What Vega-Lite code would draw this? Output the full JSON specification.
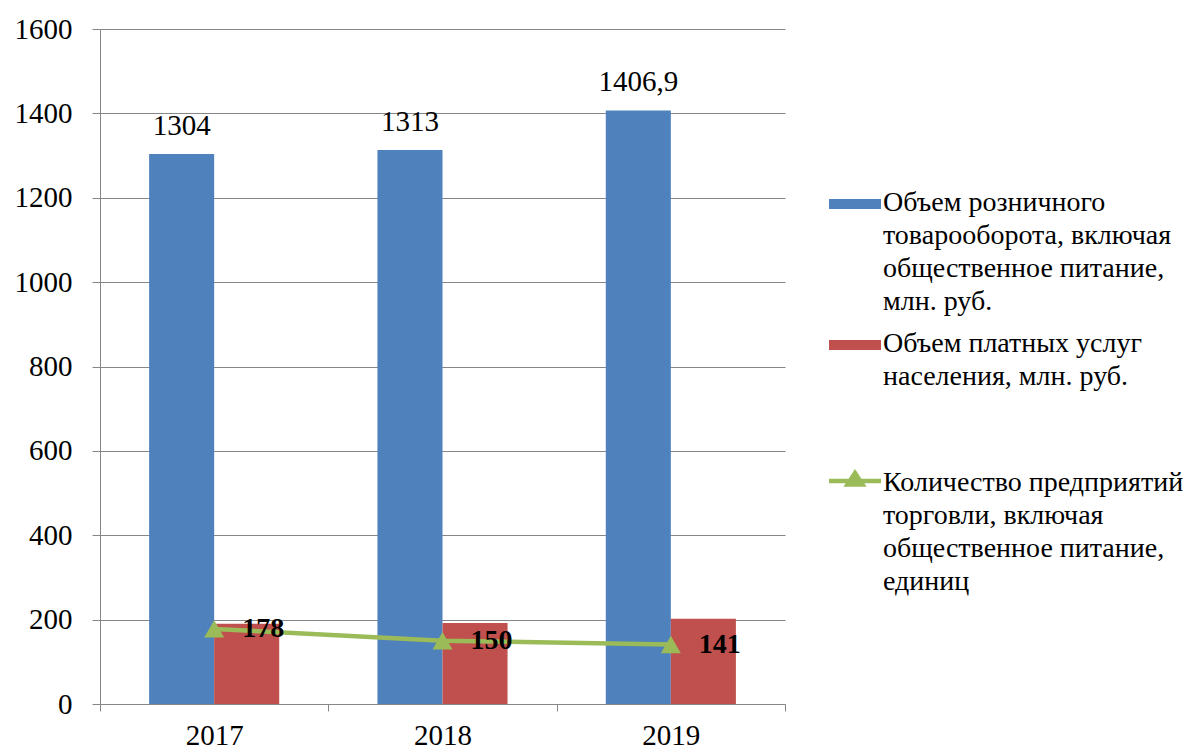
{
  "$schema": "https://vega.github.io/schema/vega-lite/v6.json",
  "width": 685,
  "height": 675,
  "autosize": {"type": "none"},
  "padding": {"left": 100, "top": 29, "right": 407, "bottom": 48},
  "background": "white",
  "config": {
    "view": {"stroke": null},
    "font": "Liberation Serif",
    "axis": {"labelFont": "Liberation Serif"},
    "legend": {"labelFont": "Liberation Serif"},
    "style": {"guide-label": {"lineHeight": 33, "font": "Liberation Serif"}}
  },
  "datasets": {
    "bars": [
      {"year": "2017", "series": "Объем розничного товарооборота, включая общественное питание, млн. руб.", "value": 1304, "label": "1304"},
      {"year": "2017", "series": "Объем платных услуг населения, млн. руб.", "value": 190},
      {"year": "2018", "series": "Объем розничного товарооборота, включая общественное питание, млн. руб.", "value": 1313, "label": "1313"},
      {"year": "2018", "series": "Объем платных услуг населения, млн. руб.", "value": 192},
      {"year": "2019", "series": "Объем розничного товарооборота, включая общественное питание, млн. руб.", "value": 1406.9, "label": "1406,9"},
      {"year": "2019", "series": "Объем платных услуг населения, млн. руб.", "value": 202}
    ],
    "line": [
      {"year": "2017", "series": "Количество предприятий торговли, включая общественное питание, единиц", "value": 178},
      {"year": "2018", "series": "Количество предприятий торговли, включая общественное питание, единиц", "value": 150},
      {"year": "2019", "series": "Количество предприятий торговли, включая общественное питание, единиц", "value": 141}
    ]
  },
  "layer": [
    {
      "data": {"name": "bars"},
      "mark": {"type": "bar"},
      "encoding": {
        "x": {
          "field": "year", "type": "nominal",
          "scale": {"type": "band", "paddingInner": 0, "paddingOuter": 0},
          "axis": {
            "title": null, "labelAngle": 0, "tickBand": "extent",
            "domainColor": "#868686", "tickColor": "#868686", "tickSize": 7,
            "labelFontSize": 29, "labelColor": "black", "labelPadding": 10,
            "labelFont": "Liberation Serif", "grid": false
          }
        },
        "xOffset": {
          "field": "series", "type": "nominal",
          "scale": {
            "domain": ["Объем розничного товарооборота, включая общественное питание, млн. руб.", "Объем платных услуг населения, млн. руб."],
            "paddingInner": 0, "paddingOuter": 0.755
          }
        },
        "y": {
          "field": "value", "type": "quantitative",
          "scale": {"domain": [0, 1600], "nice": false},
          "axis": {
            "title": null, "values": [0, 200, 400, 600, 800, 1000, 1200, 1400, 1600],
            "format": "d",
            "grid": true, "gridColor": "#868686", "domainColor": "#868686",
            "tickColor": "#868686", "tickSize": 8, "labelFontSize": 29,
            "labelPadding": 20, "labelColor": "black", "labelFont": "Liberation Serif"
          }
        },
        "color": {
          "field": "series", "type": "nominal",
          "scale": {
            "domain": ["Объем розничного товарооборота, включая общественное питание, млн. руб.", "Объем платных услуг населения, млн. руб."],
            "range": ["#4F81BD", "#C0504D"]
          },
          "legend": {
            "title": null, "orient": "none", "legendX": 741, "legendY": 146,
            "padding": 0,
            "symbolType": "M-2.6,1H2.6V2H-2.6Z", "symbolSize": 400,
            "symbolStrokeWidth": 0, "symbolOpacity": 1,
            "labelFontSize": 28, "labelFont": "Liberation Serif", "labelColor": "black",
            "labelBaseline": "top", "labelLimit": 500, "labelOffset": 14, "rowPadding": -1,
            "labelExpr": "datum.label == 'Объем платных услуг населения, млн. руб.' ? ['Объем платных услуг', 'населения, млн. руб.'] : ['Объем розничного', 'товарооборота, включая', 'общественное питание,', 'млн. руб.']"
          }
        }
      }
    },
    {
      "data": {"name": "bars"},
      "transform": [{"filter": "isValid(datum.label)"}],
      "mark": {"type": "text", "baseline": "bottom", "dy": -13, "fontSize": 29, "font": "Liberation Serif", "color": "black"},
      "encoding": {
        "x": {"field": "year", "type": "nominal", "scale": {"type": "band", "paddingInner": 0, "paddingOuter": 0}},
        "xOffset": {
          "field": "series", "type": "nominal",
          "scale": {
            "domain": ["Объем розничного товарооборота, включая общественное питание, млн. руб.", "Объем платных услуг населения, млн. руб."],
            "paddingInner": 0, "paddingOuter": 0.755
          }
        },
        "y": {"field": "value", "type": "quantitative"},
        "text": {"field": "label"}
      }
    },
    {
      "data": {"name": "line"},
      "mark": {"type": "line", "strokeWidth": 4.5},
      "encoding": {
        "x": {"field": "year", "type": "nominal", "scale": {"type": "band", "paddingInner": 0, "paddingOuter": 0}},
        "y": {"field": "value", "type": "quantitative"},
        "stroke": {
          "field": "series", "type": "nominal",
          "scale": {"range": ["#9BBB59"]},
          "legend": {
            "title": null, "orient": "none", "legendX": 741, "legendY": 426,
            "padding": 0,
            "symbolType": "M-2.6,1.2H2.6M0,0.4L0.75,1.55H-0.75Z", "symbolSize": 400,
            "symbolStrokeWidth": 4.5, "symbolFillColor": "#9BBB59", "symbolOpacity": 1,
            "labelFontSize": 28, "labelFont": "Liberation Serif", "labelColor": "black",
            "labelBaseline": "top", "labelLimit": 500, "labelOffset": 14,
            "labelExpr": "['Количество предприятий', 'торговли, включая', 'общественное питание,', 'единиц']"
          }
        }
      }
    },
    {
      "data": {"name": "line"},
      "mark": {"type": "point", "shape": "triangle-up", "filled": true, "size": 400, "color": "#9BBB59", "opacity": 1},
      "encoding": {
        "x": {"field": "year", "type": "nominal", "scale": {"type": "band", "paddingInner": 0, "paddingOuter": 0}},
        "y": {"field": "value", "type": "quantitative"}
      }
    },
    {
      "data": {"name": "line"},
      "mark": {"type": "text", "align": "left", "baseline": "middle", "dx": 28, "fontSize": 28, "fontWeight": "bold", "font": "Liberation Serif", "color": "black"},
      "encoding": {
        "x": {"field": "year", "type": "nominal", "scale": {"type": "band", "paddingInner": 0, "paddingOuter": 0}},
        "y": {"field": "value", "type": "quantitative"},
        "text": {"field": "value", "type": "quantitative"}
      }
    }
  ]
}
